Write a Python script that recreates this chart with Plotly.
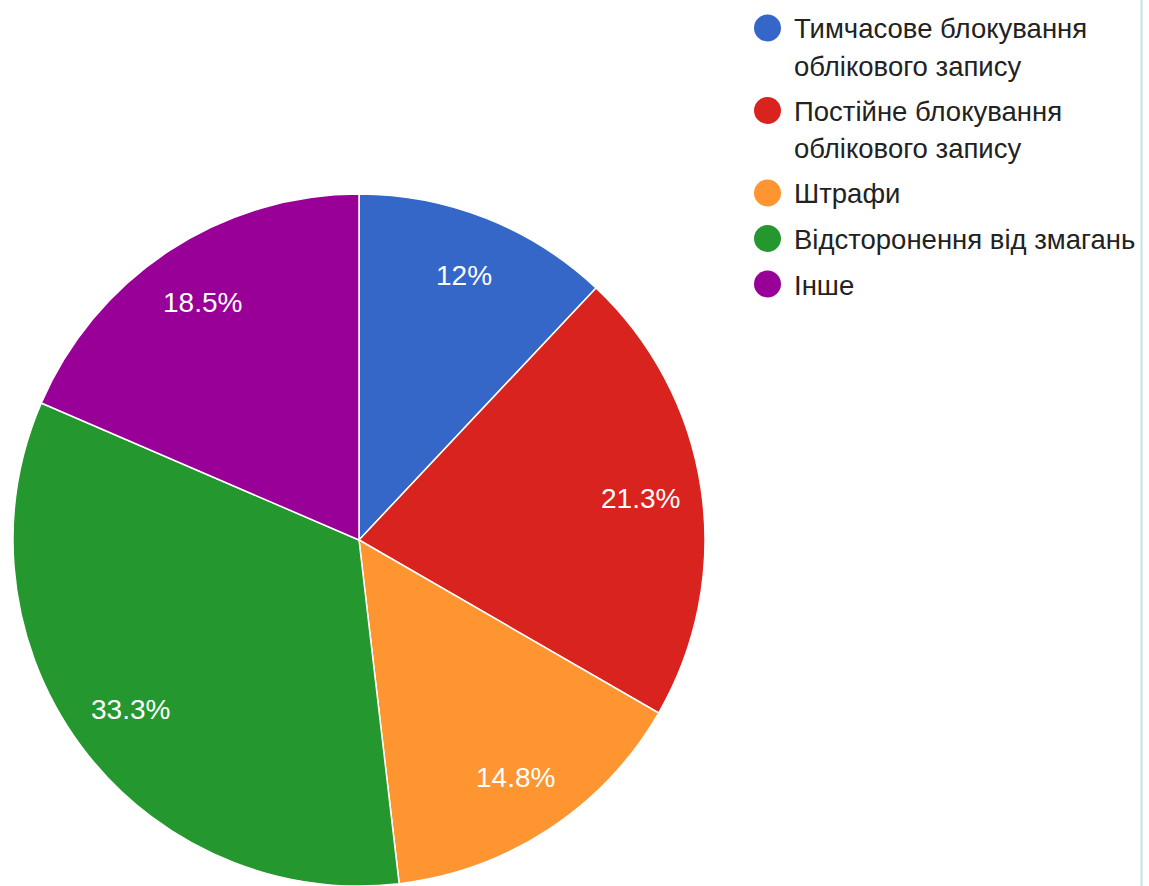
import math
import plotly.graph_objects as go

# Survey answers: penalty type and share of responses (%)
labels = [
    "Тимчасове блокування<br>облікового запису",
    "Постійне блокування<br>облікового запису",
    "Штрафи",
    "Відсторонення від змагань",
    "Інше",
]
shares = [12, 21.3, 14.8, 33.3, 18.5]
colors = ["#3467c7", "#d9231e", "#fe9530", "#25972f", "#980098"]

W, H = 1149, 886
FONT = "Arial, 'Liberation Sans', sans-serif"

# pie geometry in pixels
PCX, PCY, PR = 359, 540, 346

fig = go.Figure(
    go.Pie(
        labels=labels,
        values=shares,
        sort=False,
        direction="clockwise",
        rotation=0,
        marker=dict(colors=colors, line=dict(color="white", width=1.5)),
        textinfo="none",
        showlegend=False,
        domain=dict(x=[(PCX - PR) / W, (PCX + PR) / W],
                    y=[(H - PCY - PR) / H, (H - PCY + PR) / H]),
    )
)

annotations = []
shapes = []

# percentage labels placed at ~0.82 of the radius along each slice's mid-angle
total = sum(shares)
cum = 0.0
for v in shares:
    mid = (cum + v / 2) / total * 2 * math.pi
    cum += v
    px = PCX + 0.822 * PR * math.sin(mid)
    py = PCY - 0.822 * PR * math.cos(mid)
    annotations.append(dict(
        xref="paper", yref="paper", x=px / W, y=1 - py / H,
        xanchor="center", yanchor="middle", showarrow=False,
        text=f"{v:g}%",
        font=dict(family=FONT, size=28, color="white"),
    ))

# Legend drawn as circles + text lines on the right
y = 28.0
line_h = 37.0
item_gap = 45.5
r = 13.5
cx = 767.5
for name, col in zip(labels, colors):
    shapes.append(dict(
        type="circle", xref="paper", yref="paper",
        x0=(cx - r) / W, x1=(cx + r) / W,
        y0=1 - (y + r) / H, y1=1 - (y - r) / H,
        fillcolor=col, line=dict(width=0),
    ))
    parts = name.split("<br>")
    for i, part in enumerate(parts):
        annotations.append(dict(
            xref="paper", yref="paper",
            x=792 / W, y=1 - (y + 1 + i * line_h) / H,
            xanchor="left", yanchor="middle",
            text=part, showarrow=False,
            font=dict(family=FONT, size=27.5, color="#222222"),
        ))
    y += (len(parts) - 1) * line_h + item_gap

# thin frame line at the right edge
shapes.append(dict(
    type="line", xref="paper", yref="paper",
    x0=1141.5 / W, x1=1141.5 / W, y0=0, y1=1,
    line=dict(color="#c4e0f0", width=2),
))

fig.update_layout(
    width=W, height=H,
    margin=dict(l=0, r=0, t=0, b=0),
    paper_bgcolor="white",
    plot_bgcolor="white",
    shapes=shapes,
    annotations=annotations,
)

fig.write_html("out.html")
